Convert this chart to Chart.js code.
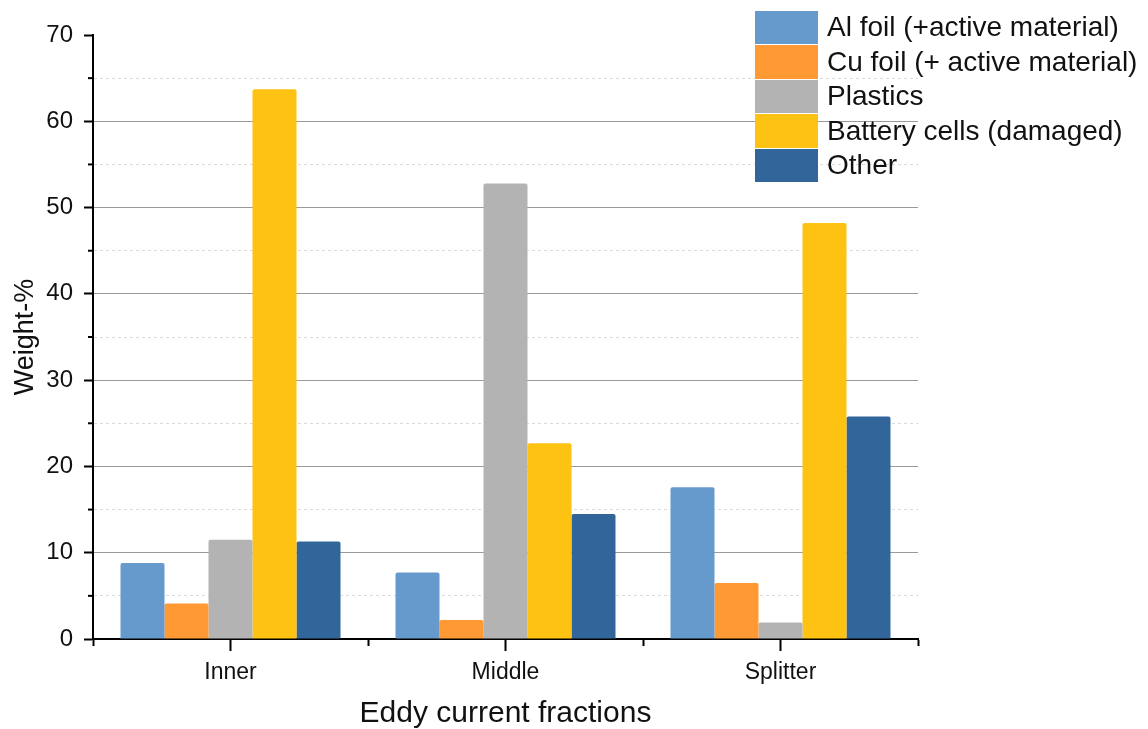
<!DOCTYPE html>
<html>
<head>
<meta charset="utf-8">
<script src="https://cdn.jsdelivr.net/npm/chart.js@4.4.0/dist/chart.umd.min.js"></script>
<style>
  body { margin: 0; background: #fff; }
  #wrap { position: relative; width: 1148px; height: 729px; }
  #legend { position: absolute; left: 755px; top: 10px; font-family: "Liberation Sans", Arial, sans-serif; font-size: 28px; color: #111; }
  .item { display: flex; align-items: center; height: 34.5px; white-space: nowrap; }
  .box { width: 63px; height: 33.5px; margin-right: 9px; flex: none; }
</style>
</head>
<body>
<div id="wrap">
  <canvas id="myChart" width="1148" height="729"></canvas>
  <div id="legend"></div>
</div>
<script>
// categories and series (Weight-%)
var fractions = ['Inner', 'Middle', 'Splitter'];
var alFoil = [8.8, 7.7, 17.6];
var cuFoil = [4.1, 2.2, 6.5];
var plastics = [11.5, 52.8, 1.9];
var batteryCells = [63.7, 22.7, 48.2];
var other = [11.3, 14.5, 25.8];

var seriesNames = ['Al foil (+active material)', 'Cu foil (+ active material)', 'Plastics', 'Battery cells (damaged)', 'Other'];
var seriesColors = ['#6699cc', '#fe9933', '#b3b3b3', '#fdc212', '#32659a'];
var seriesData = [alFoil, cuFoil, plastics, batteryCells, other];

var fontFamily = '"Liberation Sans", Arial, sans-serif';

// extra tick marks: long ones under each category centre, short minor ones on y
var extraTicks = {
    id: 'extraTicks',
    afterDraw: function (chart) {
        var x = chart.scales.x, y = chart.scales.y, c = chart.ctx;
        c.save();
        c.strokeStyle = '#000';
        c.lineWidth = 2;
        for (var i = 0; i < fractions.length; i++) {
            var px = x.getPixelForValue(i);
            c.beginPath();
            c.moveTo(px, x.top);
            c.lineTo(px, x.top + 12);
            c.stroke();
        }
        y.ticks.forEach(function (t) {
            if (t.value % 10 !== 0) {
                var py = y.getPixelForValue(t.value);
                c.beginPath();
                c.moveTo(y.right - 5, py);
                c.lineTo(y.right, py);
                c.stroke();
            }
        });
        c.restore();
    }
};

const ctx = document.getElementById('myChart');

var chart = new Chart(ctx, {
    type: 'bar',
    data: {
        labels: fractions,
        datasets: seriesData.map(function (d, i) {
            return {
                label: seriesNames[i],
                data: d,
                backgroundColor: seriesColors[i],
                borderWidth: 0,
                borderRadius: 2,
                categoryPercentage: 0.8,
                barPercentage: 1.0
            };
        })
    },
    options: {
        responsive: false,
        animation: false,
        layout: {
            padding: { left: 0, right: 230, top: 35, bottom: 0 }
        },
        plugins: {
            legend: { display: false },
            tooltip: { enabled: false }
        },
        scales: {
            x: {
                afterFit: function (s) { s.height = 90; },
                grid: {
                    offset: true,
                    drawOnChartArea: false,
                    drawTicks: true,
                    tickLength: 7,
                    tickColor: '#000',
                    tickWidth: 2
                },
                border: { display: true, color: '#000', width: 2 },
                ticks: {
                    color: '#111',
                    padding: 13,
                    font: { family: fontFamily, size: 23 }
                },
                title: {
                    display: true,
                    text: 'Eddy current fractions',
                    color: '#111',
                    padding: 0,
                    font: { family: fontFamily, size: 30, lineHeight: 1 }
                }
            },
            y: {
                min: 0,
                max: 70,
                afterFit: function (s) { s.width = 93; },
                ticks: {
                    stepSize: 5,
                    color: '#111',
                    padding: 11,
                    font: { family: fontFamily, size: 24 },
                    callback: function (v) { return v % 10 === 0 ? v : ''; }
                },
                grid: {
                    drawTicks: true,
                    tickLength: 9,
                    tickWidth: 2,
                    tickColor: function (c) {
                        return c.tick && c.tick.value % 10 !== 0 ? 'rgba(0,0,0,0)' : '#000';
                    },
                    lineWidth: 1,
                    color: function (c) {
                        if (!c.tick) return '#999';
                        var v = c.tick.value;
                        if (v === 0 || v === 70) return 'rgba(0,0,0,0)';
                        return v % 10 === 0 ? '#9a9a9a' : '#dadada';
                    }
                },
                border: {
                    display: true,
                    color: '#000',
                    width: 2,
                    dash: function (c) {
                        if (!c.tick) return [];
                        return c.tick.value % 10 === 0 ? [] : [3, 3];
                    }
                },
                title: {
                    display: true,
                    text: 'Weight-%',
                    color: '#111',
                    padding: { top: 9, bottom: 0 },
                    font: { family: fontFamily, size: 27 }
                }
            }
        }
    },
    plugins: [extraTicks]
});

// html legend built from the datasets
var legend = document.getElementById('legend');
chart.data.datasets.forEach(function (ds) {
    var row = document.createElement('div');
    row.className = 'item';
    var box = document.createElement('span');
    box.className = 'box';
    box.style.background = ds.backgroundColor;
    var label = document.createElement('span');
    label.textContent = ds.label;
    row.appendChild(box);
    row.appendChild(label);
    legend.appendChild(row);
});
</script>
</body>
</html>
